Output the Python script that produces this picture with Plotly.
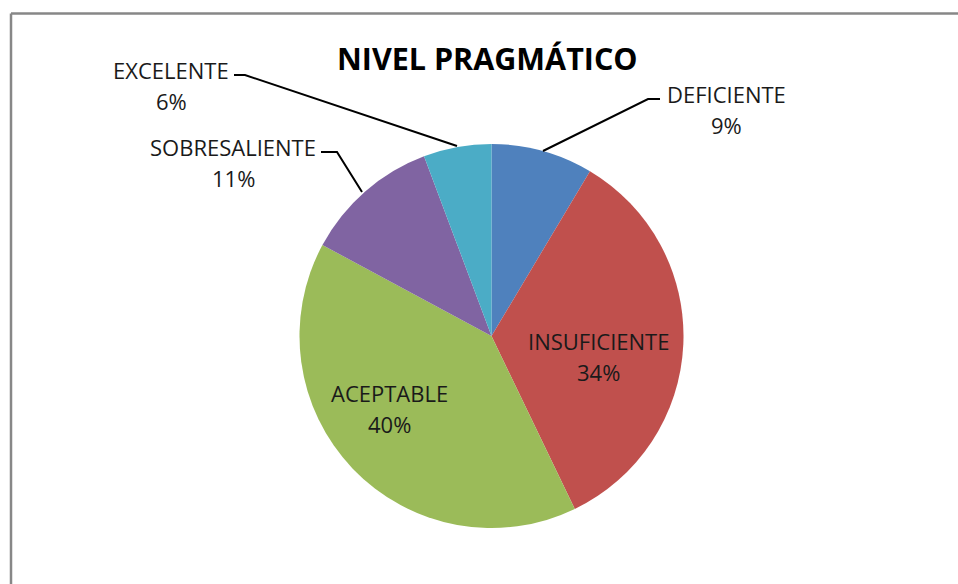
import plotly.graph_objects as go

W, H = 958, 584

# data
labels = ["DEFICIENTE", "INSUFICIENTE", "ACEPTABLE", "SOBRESALIENTE", "EXCELENTE"]
counts = [3, 12, 14, 4, 2]
colors = ["#4F81BD", "#C0504D", "#9BBB59", "#8064A2", "#4BACC6"]

total = sum(counts)
pct = [round(100 * c / total) for c in counts]


def px_x(x):
    return x / W


def px_y(y):
    return 1 - y / H


fig = go.Figure(go.Pie(
    labels=labels,
    values=counts,
    sort=False,
    direction="clockwise",
    rotation=0,
    marker=dict(colors=colors, line=dict(width=0)),
    textinfo="none",
    hoverinfo="label+percent",
    domain=dict(x=[px_x(299), px_x(684)], y=[px_y(528), px_y(144)]),
    showlegend=False,
))

# first-line centre of each label, pixels; second line sits 31px lower
label_pos = {
    "DEFICIENTE": (726, 94),
    "INSUFICIENTE": (598, 341),
    "ACEPTABLE": (389, 393),
    "SOBRESALIENTE": (233, 147),
    "EXCELENTE": (171, 70),
}
LINE_GAP = 31

annotations = []
for lab, p in zip(labels, pct):
    x, y = label_pos[lab]
    for txt, yy in ((lab, y), (f"{p}%", y + LINE_GAP)):
        annotations.append(dict(
            x=px_x(x), y=px_y(yy), xref="paper", yref="paper",
            text=txt, showarrow=False,
            font=dict(family="Open Sans", size=22, color="#1a1a1a"),
            xanchor="center", yanchor="middle",
        ))

annotations.append(dict(
    x=px_x(487), y=px_y(58), xref="paper", yref="paper",
    text="<b>NIVEL PRAGMÁTICO</b>", showarrow=False,
    font=dict(family="Open Sans", size=30.5, color="#000000"),
    xanchor="center", yanchor="middle",
))

# leader lines
leaders = [
    [(660, 99), (648, 99), (543, 151)],
    [(321, 152), (337, 152), (362, 192)],
    [(234, 75), (245, 75), (457, 146)],
]

shapes = []
for pts in leaders:
    path = "M " + " L ".join(f"{px_x(a)},{px_y(b)}" for a, b in pts)
    shapes.append(dict(type="path", path=path, xref="paper", yref="paper",
                       line=dict(color="#000000", width=2)))

# chart area border (only top and left edges are in view)
border = dict(color="#878787", width=2.5)
shapes.append(dict(type="line", xref="paper", yref="paper",
                   x0=px_x(11), x1=px_x(11), y0=0, y1=px_y(13.5), line=border))
shapes.append(dict(type="line", xref="paper", yref="paper",
                   x0=px_x(11), x1=1, y0=px_y(13.5), y1=px_y(13.5), line=border))

fig.update_layout(
    width=W, height=H,
    margin=dict(l=0, r=0, t=0, b=0),
    paper_bgcolor="white",
    plot_bgcolor="white",
    annotations=annotations,
    shapes=shapes,
)

fig.write_html(
    "out.html",
    config={"displayModeBar": False},
    post_script="document.body.style.margin='0';document.body.style.overflow='hidden';",
)
